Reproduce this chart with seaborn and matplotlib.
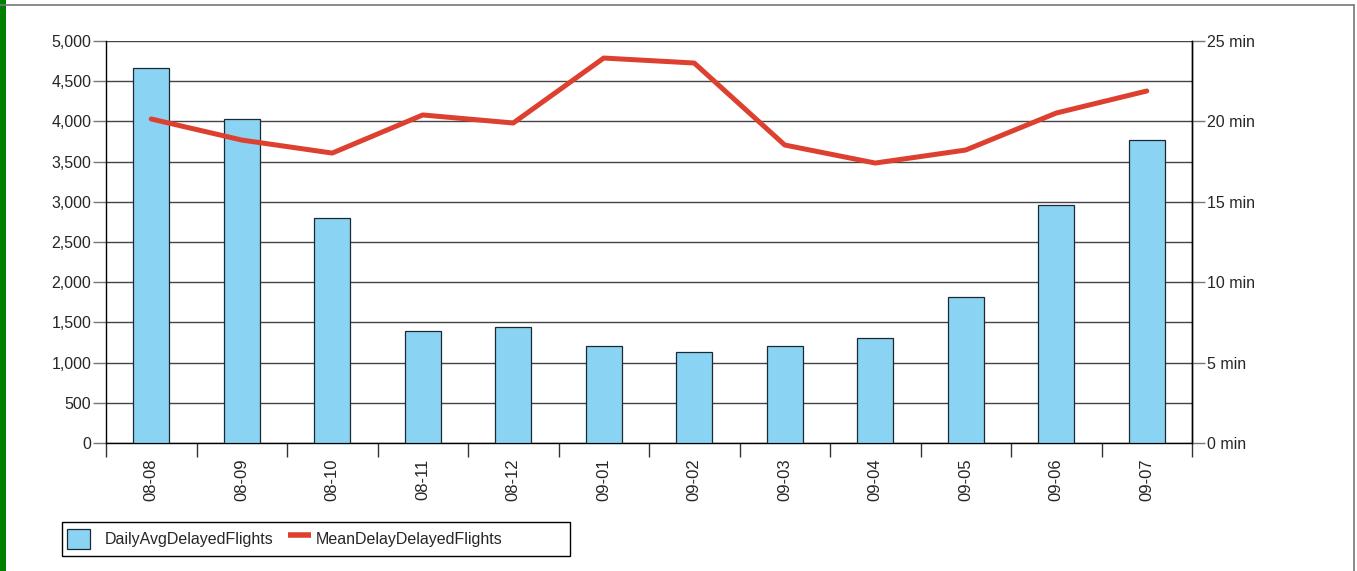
import numpy as np
import pandas as pd
import seaborn as sns
import matplotlib.pyplot as plt
from matplotlib.patches import Rectangle, Patch
from matplotlib.lines import Line2D
from matplotlib.legend_handler import HandlerLine2D
from matplotlib.ticker import FuncFormatter, FixedLocator

# datos
fechas = ['08-08', '08-09', '08-10', '08-11', '08-12', '09-01',
          '09-02', '09-03', '09-04', '09-05', '09-06', '09-07']
vuelos_retrasados = [4664, 4030, 2799, 1393, 1443, 1206,
                     1132, 1206, 1306, 1816, 2960, 3769]
retraso_medio = [20.15, 18.84, 18.03, 20.4, 19.9, 23.94,
                 23.63, 18.53, 17.41, 18.22, 20.52, 21.89]

df = pd.DataFrame({'Fecha': fechas,
                   'DailyAvgDelayedFlights': vuelos_retrasados,
                   'MeanDelayDelayedFlights': retraso_medio})

sns.set_style('white')
plt.rcParams['font.family'] = ['Liberation Sans', 'DejaVu Sans']
plt.rcParams['font.size'] = 11.5

color_barra = '#8ad3f3'
color_linea = '#de4030'
W, H = 1357, 571


# la linea de la leyenda va mas pegada a su texto
class LineaCorrida(HandlerLine2D):
    def create_artists(self, legend, orig_handle, xdescent, ydescent,
                       width, height, fontsize, trans):
        return super().create_artists(legend, orig_handle, xdescent - 7.5, ydescent - 1.5,
                                      width, height, fontsize, trans)


fig = plt.figure(figsize=(W / 100, H / 100), dpi=100)
ax = fig.add_axes([106 / W, 1 - 443 / H, (1192 - 106) / W, (443 - 41) / H])

sns.barplot(data=df, x='Fecha', y='DailyAvgDelayedFlights', color=color_barra,
            width=0.4, saturation=1, edgecolor='#1a2a33', linewidth=0.9, ax=ax, zorder=3)
ax.set_ylim(0, 5000)
ax.set_xlim(-0.5, len(fechas) - 0.5)
ax.set_yticks(range(0, 5001, 500))
ax.yaxis.set_major_formatter(FuncFormatter(lambda v, p: f'{int(v):,}'))
ax.grid(axis='y', color='#444444', linewidth=1)
ax.set_axisbelow(True)
ax.set_xlabel('')
ax.set_ylabel('')

ax.spines['top'].set_visible(False)
for s in ['left', 'right', 'bottom']:
    ax.spines[s].set_color('black')
    ax.spines[s].set_linewidth(1)

ax.tick_params(axis='x', which='major', length=0, pad=11, labelrotation=90, labelsize=12)
ax.xaxis.set_minor_locator(FixedLocator(np.arange(-0.5, len(fechas), 1)))
ax.tick_params(axis='x', which='minor', length=10, width=1, color='#333333', bottom=True)
ax.tick_params(axis='y', which='major', length=9.5, width=1, color='#777777', pad=1,
               labelsize=11.5, left=True)

# eje derecho
ax2 = ax.twinx()
sns.lineplot(x=np.arange(len(fechas)), y=df['MeanDelayDelayedFlights'], color=color_linea,
             linewidth=3.6, solid_capstyle='round', solid_joinstyle='round', ax=ax2, zorder=4)
ax2.set_ylim(0, 25)
ax2.set_yticks(range(0, 26, 5))
ax2.yaxis.set_major_formatter(FuncFormatter(lambda v, p: f'{int(v)} min'))
ax2.tick_params(axis='y', length=9.5, width=1, color='#777777', pad=1, labelsize=11.5, right=True)
ax2.set_ylabel('')
for s in ['top', 'left', 'bottom']:
    ax2.spines[s].set_visible(False)
ax2.spines['right'].set_color('black')
ax2.spines['right'].set_linewidth(1)

# leyenda
linea_ley = Line2D([0], [0], color=color_linea, linewidth=4, solid_capstyle='butt')
handles = [Patch(facecolor=color_barra, edgecolor='#1a2a33', linewidth=0.9), linea_ley]
leg = fig.legend(handles, ['DailyAvgDelayedFlights', 'MeanDelayDelayedFlights'],
                 loc='center left', bbox_to_anchor=(67 / W, 1 - 539 / H),
                 ncol=2, frameon=False, fontsize=11.5,
                 handlelength=1.44, handleheight=1.6, columnspacing=0.25,
                 handletextpad=0.94, borderpad=0, borderaxespad=0,
                 handler_map={linea_ley: LineaCorrida()})
fig.add_artist(Rectangle((62 / W, 1 - 556 / H), (570 - 62) / W, 34 / H,
                         transform=fig.transFigure, facecolor='none',
                         edgecolor='black', lw=1))

# marco
fig.add_artist(Rectangle((0, 0), 6 / W, 1, transform=fig.transFigure,
                         color='#008000', lw=0))
fig.add_artist(Line2D([0, 1354 / W], [1 - 5 / H, 1 - 5 / H],
                      transform=fig.transFigure, color='#777777', lw=1.2))
fig.add_artist(Line2D([1354 / W, 1354 / W], [0, 1 - 5 / H],
                      transform=fig.transFigure, color='#777777', lw=1.2))

plt.savefig('out.png', dpi=100)
